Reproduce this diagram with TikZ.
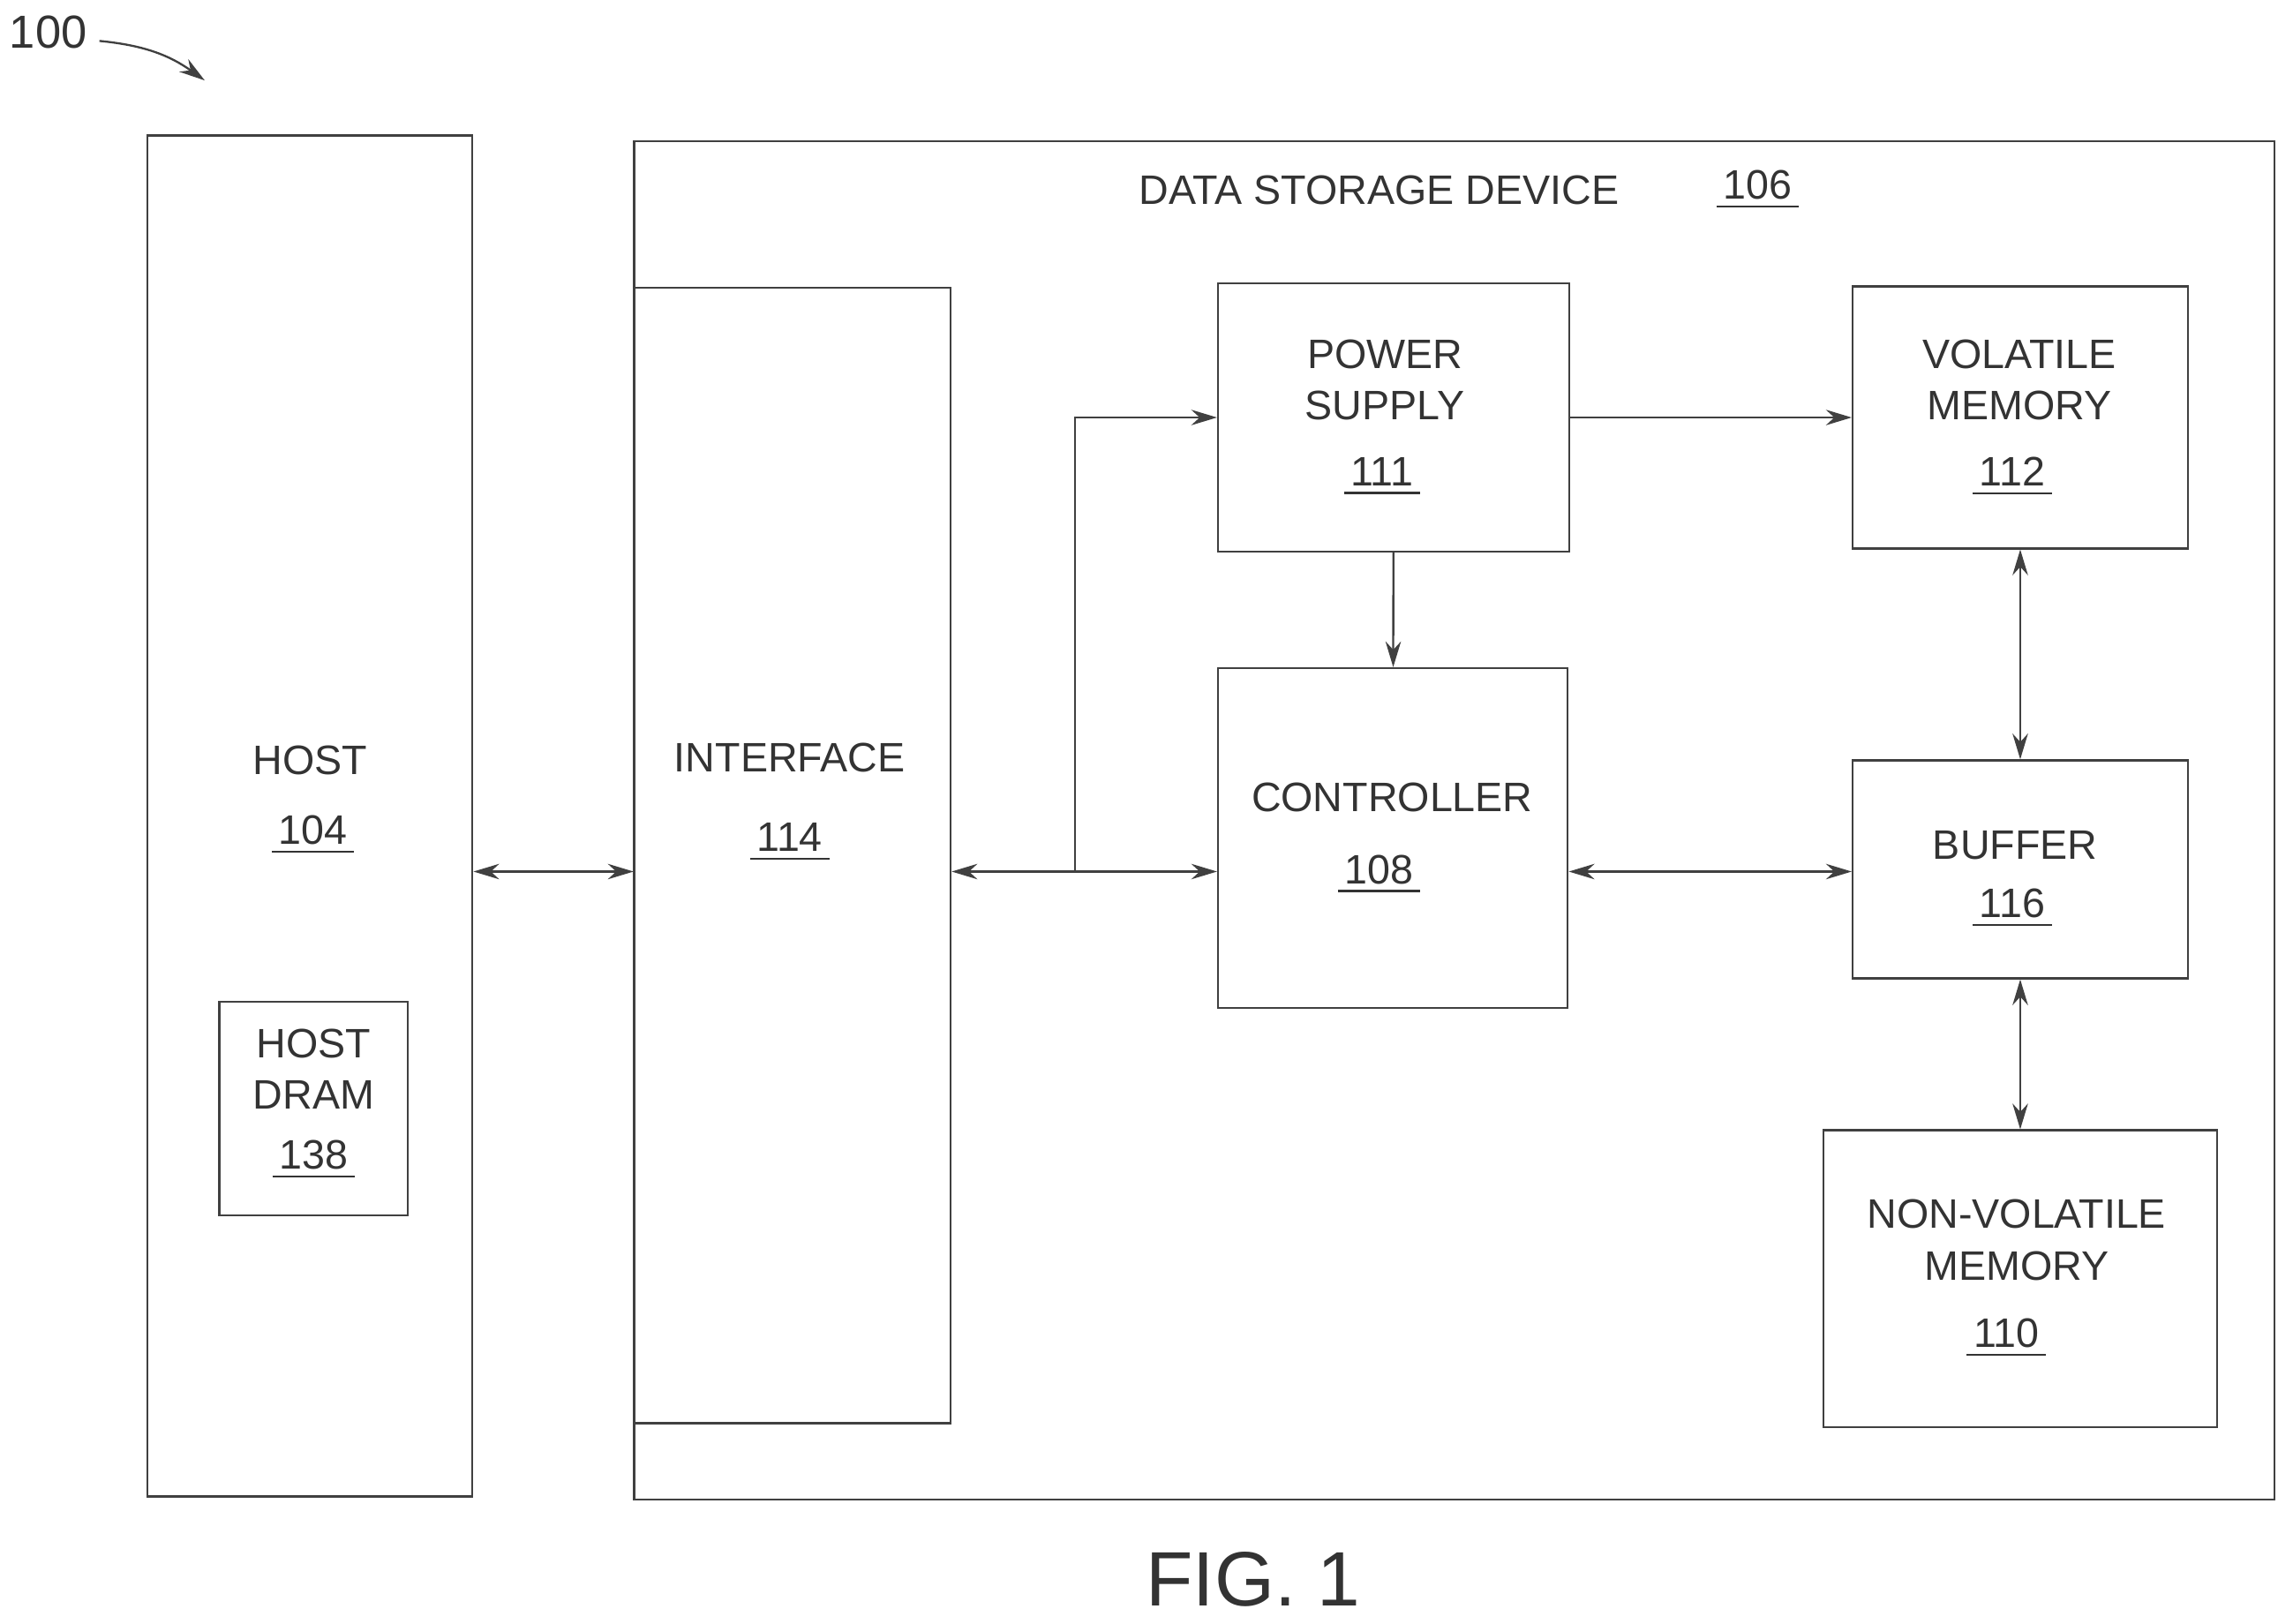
\documentclass[tikz,border=0pt]{standalone}
\usepackage{fontspec}
\setmainfont{Liberation Sans}
\usetikzlibrary{arrows.meta, positioning}
\tikzset{
  block/.style={
    rectangle,
    draw=black!75,
    thin,
    inner sep=0pt
  },
  txt/.style={
    align=center,
    font=\fontsize{8}{10}\selectfont,
    text=black!80
  },
  arrow/.style={
    draw=black!75,
    thin,
    -{Stealth[length=5pt,width=3pt]}
  },
  biarrow/.style={
    draw=black!75,
    thin,
    {Stealth[length=5pt,width=3pt]}-{Stealth[length=5pt,width=3pt]}
  }
}
\newcommand{\ul}[1]{\underline{\,#1\,}}

\begin{document}
\begin{tikzpicture}[x=0.01cm, y=-0.01cm]
  \useasboundingbox (0,0) rectangle (1568,1110);

  % Reference numeral
  \node[txt, font=\fontsize{9}{10}\selectfont] (ref) at (33,22) {100};
  \draw[arrow] (68,28) to[bend left=15] (140,55);

  % Host side
  \node[block, minimum width=2.22cm, minimum height=9.30cm] (host) at (212,558) {};
  \node[txt] (hosttxt) at (212,520) {HOST};
  \node[txt] (hostnum) at (214,571) {\ul{104}};
  \node[block, minimum width=1.29cm, minimum height=1.46cm] (dram) at (214.5,758) {};
  \node[txt] (dramtxt) at (214.5,731) {HOST\\DRAM};
  \node[txt] (dramnum) at (214.5,793) {\ul{138}};

  % Data storage device
  \node[block, minimum width=11.21cm, minimum height=9.28cm] (dsd) at (994.5,561) {};
  \node[txt] (dsdtxt) at (943,130) {DATA STORAGE DEVICE};
  \node[txt] (dsdnum) at (1202,130) {\ul{106}};

  % Inner blocks
  \node[block, minimum width=2.16cm, minimum height=7.76cm] (iface) at (542,585) {};
  \node[txt] (ifacetxt) at (540,518) {INTERFACE};
  \node[txt] (ifacenum) at (540,576) {\ul{114}};

  \node[block, minimum width=2.40cm, minimum height=1.83cm] (ps) at (953,285.5) {};
  \node[txt] (pstxt) at (947,260) {POWER\\SUPPLY};
  \node[txt] (psnum) at (945,326) {\ul{111}};

  \node[block, minimum width=2.39cm, minimum height=2.32cm] (ctrl) at (952.5,573) {};
  \node[txt] (ctrltxt) at (952,545) {CONTROLLER};
  \node[txt] (ctrlnum) at (943,598) {\ul{108}};

  \node[block, minimum width=2.29cm, minimum height=1.79cm] (vol) at (1381.5,285.5) {};
  \node[txt] (voltxt) at (1381,260) {VOLATILE\\MEMORY};
  \node[txt] (volnum) at (1376,326) {\ul{112}};

  \node[block, minimum width=2.29cm, minimum height=1.49cm] (buf) at (1381.5,594.5) {};
  \node[txt] (buftxt) at (1378,578) {BUFFER};
  \node[txt] (bufnum) at (1376,621) {\ul{116}};

  \node[block, minimum width=2.69cm, minimum height=2.03cm] (nvm) at (1381.5,874.5) {};
  \node[txt] (nvmtxt) at (1379,848) {NON-VOLATILE\\MEMORY};
  \node[txt] (nvmnum) at (1372,915) {\ul{110}};

  % Caption
  \node[txt, font=\fontsize{15}{16}\selectfont] (fig) at (857,1080) {FIG. 1};

  % Connectors
  \coordinate (bus) at (735,596);
  \draw[biarrow] (host.east |- bus) -- (iface.west |- bus);
  \draw[arrow] (bus) -- (iface.east |- bus);
  \draw[arrow] (bus) -- (ctrl.west |- bus);
  \draw[arrow] (bus) |- (ps.west);
  \draw[arrow] (ps) -- (vol);
  \draw[arrow] (ps) -- (ctrl);
  \draw[biarrow] (ctrl.east |- bus) -- (buf.west |- bus);
  \draw[biarrow] (vol) -- (buf);
  \draw[biarrow] (buf) -- (nvm);
\end{tikzpicture}
\end{document}
